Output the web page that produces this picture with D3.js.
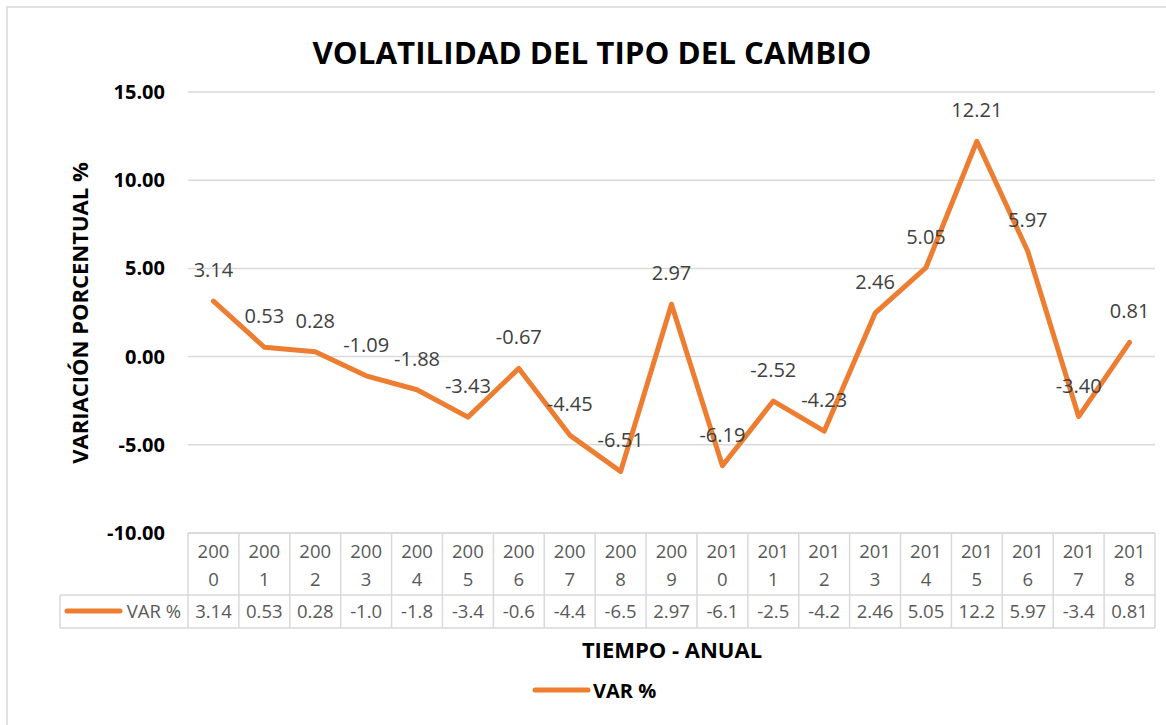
<!DOCTYPE html>
<html>
<head>
<meta charset="utf-8">
<script src="https://cdn.jsdelivr.net/npm/d3@7"></script>
<style>
  body { margin: 0; background: #fff; }
  text { font-family: "Open Sans", "Noto Sans", sans-serif; }
</style>
</head>
<body>
<svg id="chart"></svg>
<script>
const years = ["2000", "2001", "2002", "2003", "2004", "2005", "2006", "2007", "2008", "2009",
  "2010", "2011", "2012", "2013", "2014", "2015", "2016", "2017", "2018"];
const varPct = [3.14, 0.53, 0.28, -1.09, -1.88, -3.43, -0.67, -4.45, -6.51, 2.97,
  -6.19, -2.52, -4.23, 2.46, 5.05, 12.21, 5.97, -3.40, 0.81];
const yTicks = [-10, -5, 0, 5, 10, 15];
const seriesName = "VAR %";

const width = 1166;
const height = 725;
const plotLeft = 188, plotRight = 1155, plotTop = 92, plotBottom = 533;
const rowSplit = 595, tableBottom = 628, legendLeft = 60;
const orange = "#ED7D31";
const gray = "#595959";

const svg = d3.select("#chart")
  .attr("width", width)
  .attr("height", height);

// outer border
svg.append("rect")
  .attr("x", 7).attr("y", 7)
  .attr("width", width + 20).attr("height", height + 20)
  .attr("fill", "none").attr("stroke", "#D9D9D9").attr("stroke-width", 1.5);

// title
svg.append("text")
  .attr("x", 592).attr("y", 64)
  .attr("text-anchor", "middle")
  .attr("font-size", 31).attr("font-weight", "bold")
  .attr("textLength", 559).attr("lengthAdjust", "spacingAndGlyphs")
  .text("VOLATILIDAD DEL TIPO DEL CAMBIO");

// scales
const x = d3.scaleBand().domain(years).range([plotLeft, plotRight]);
const y = d3.scaleLinear().domain([-10, 15]).range([plotBottom, plotTop]);

// grid lines
svg.append("g")
  .selectAll("line")
  .data(yTicks)
  .enter()
  .append("line")
  .attr("x1", plotLeft).attr("x2", plotRight)
  .attr("y1", d => y(d)).attr("y2", d => y(d))
  .attr("stroke", "#D9D9D9").attr("stroke-width", 1.5);

// y axis
const yAxis = d3.axisLeft(y).tickValues(yTicks).tickFormat(d => d.toFixed(2)).tickSize(0).tickPadding(0);
svg.append("g")
  .attr("id", "y-axis")
  .attr("transform", "translate(165, 0)")
  .call(yAxis)
  .call(g => g.select(".domain").remove())
  .selectAll("text")
  .attr("font-size", 20).attr("font-weight", "bold").attr("fill", "#000")
  .attr("font-family", "'Open Sans', sans-serif");

// y axis title
svg.append("text")
  .attr("transform", "translate(88, 313) rotate(-90)")
  .attr("text-anchor", "middle")
  .attr("font-size", 22).attr("font-weight", "bold")
  .text("VARIACIÓN PORCENTUAL %");

// data table
const table = svg.append("g").attr("stroke", "#D9D9D9").attr("stroke-width", 1.5);
table.append("line").attr("x1", plotLeft).attr("x2", plotRight).attr("y1", plotBottom).attr("y2", plotBottom);
table.append("line").attr("x1", legendLeft).attr("x2", plotRight).attr("y1", rowSplit).attr("y2", rowSplit);
table.append("line").attr("x1", legendLeft).attr("x2", plotRight).attr("y1", tableBottom).attr("y2", tableBottom);
table.append("line").attr("x1", legendLeft).attr("x2", legendLeft).attr("y1", rowSplit).attr("y2", tableBottom);
table.selectAll(".col")
  .data(years.concat(["end"]))
  .enter()
  .append("line")
  .attr("x1", (d, i) => plotLeft + i * x.bandwidth())
  .attr("x2", (d, i) => plotLeft + i * x.bandwidth())
  .attr("y1", plotBottom).attr("y2", tableBottom);

// category labels (wrapped)
const cat = svg.append("g").selectAll("text")
  .data(years)
  .enter()
  .append("text")
  .attr("x", d => x(d) + x.bandwidth() / 2)
  .attr("text-anchor", "middle")
  .attr("font-size", 18.5).attr("fill", gray);
cat.append("tspan").attr("x", d => x(d) + x.bandwidth() / 2).attr("y", 558).text(d => d.slice(0, 3));
cat.append("tspan").attr("x", d => x(d) + x.bandwidth() / 2).attr("y", 586).text(d => d.slice(3));

// table values
svg.append("g").selectAll("text")
  .data(varPct)
  .enter()
  .append("text")
  .attr("x", (d, i) => x(years[i]) + x.bandwidth() / 2)
  .attr("y", 618)
  .attr("text-anchor", "middle")
  .attr("font-size", 18.5).attr("fill", gray)
  .text(d => d.toFixed(2).slice(0, 4));

// table legend key
svg.append("line")
  .attr("x1", 67).attr("x2", 120).attr("y1", 611).attr("y2", 611)
  .attr("stroke", orange).attr("stroke-width", 5).attr("stroke-linecap", "round");
svg.append("text")
  .attr("x", 181).attr("y", 618)
  .attr("text-anchor", "end")
  .attr("font-size", 18.5).attr("fill", gray)
  .text(seriesName);

// line
const line = d3.line()
  .x((d, i) => x(years[i]) + x.bandwidth() / 2)
  .y(d => y(d));
svg.append("path")
  .datum(varPct)
  .attr("d", line)
  .attr("fill", "none")
  .attr("stroke", orange)
  .attr("stroke-width", 5)
  .attr("stroke-linejoin", "round")
  .attr("stroke-linecap", "round");

// data labels
svg.append("g").selectAll("text")
  .data(varPct)
  .enter()
  .append("text")
  .attr("x", (d, i) => x(years[i]) + x.bandwidth() / 2)
  .attr("y", d => y(d) - 24)
  .attr("text-anchor", "middle")
  .attr("font-size", 20).attr("fill", "#404040")
  .text(d => d.toFixed(2));

// x axis title
svg.append("text")
  .attr("x", 672).attr("y", 658)
  .attr("text-anchor", "middle")
  .attr("font-size", 22).attr("font-weight", "bold")
  .text("TIEMPO - ANUAL");

// legend
svg.append("line")
  .attr("x1", 535).attr("x2", 588).attr("y1", 690).attr("y2", 690)
  .attr("stroke", orange).attr("stroke-width", 5).attr("stroke-linecap", "round");
svg.append("text")
  .attr("x", 593).attr("y", 698)
  .attr("font-size", 20).attr("font-weight", "bold")
  .text(seriesName);
</script>
</body>
</html>
